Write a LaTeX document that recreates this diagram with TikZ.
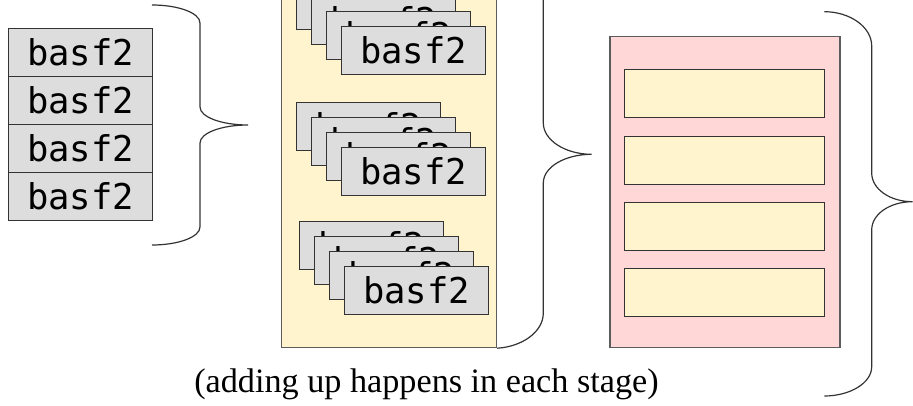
\documentclass[tikz,border=0pt]{standalone}
\usepackage{fontspec}
\setmainfont{Liberation Serif}
\newfontfamily\codefont{DejaVu Sans Mono}
\definecolor{jobgrey}{HTML}{DDDDDD}
\definecolor{stageyellow}{HTML}{FFF4CE}
\definecolor{poolpink}{HTML}{FFD7D7}
\definecolor{edgegrey}{HTML}{333333}
\begin{document}
\begin{tikzpicture}[x=1pt,y=-1pt,
  binbox/.style={draw=edgegrey,fill=jobgrey,line width=1pt,
    minimum width=144pt,minimum height=48pt,inner sep=0pt,anchor=north west,
    font=\codefont\fontsize{35.5}{40}\selectfont},
  panel/.style={draw=edgegrey!80,line width=1.2pt,inner sep=0pt,anchor=north west},
  slot/.style={draw=edgegrey,fill=stageyellow,line width=1pt,
    minimum width=200pt,minimum height=48pt,inner sep=0pt,anchor=north west},
  bracepath/.style={draw=edgegrey,line width=1.2pt}]
\useasboundingbox (0,0) rectangle (913,406);
\clip (0,0) rectangle (913,406);

% single process: four jobs one after another
\foreach \i/\y in {1/28,2/76,3/124,4/172}
  \node[binbox] (seq\i) at (8,\y) {basf2};

% stage panel with three groups of parallel jobs
\node[panel,fill=stageyellow,minimum width=215pt,minimum height=352pt] (stage) at (281,-5) {};
\foreach \i/\x/\y in {1/296/-19,2/311/-4,3/326/11,4/341/26}
  \node[binbox] (ga\i) at (\x,\y) {basf2};
\foreach \i/\x/\y in {1/296/101.7,2/311/116.7,3/326/131.7,4/341/146.7}
  \node[binbox] (gb\i) at (\x,\y) {basf2};
\foreach \i/\x/\y in {1/299/221,2/314/236,3/329/251,4/344/266}
  \node[binbox] (gc\i) at (\x,\y) {basf2};

% pool of stages
\node[panel,fill=poolpink,minimum width=230pt,minimum height=310.7pt] (pool) at (609.3,36) {};
\foreach \i/\y in {1/69,2/136,3/202.3,4/268.3}
  \node[slot] (slot\i) at (624.3,\y) {};

% curly braces
\path[bracepath] (152,5) .. controls (178.5,5) and (200,13) .. (200,23)
  -- (200,107) .. controls (200,117) and (221.5,125) .. (248,125)
  .. controls (221.5,125) and (200,133) .. (200,143)
  -- (200,227) .. controls (200,237) and (178.5,245) .. (152,245);

\path[bracepath] (496,-38) .. controls (522,-38) and (543.3,-23) .. (543.3,-4)
  -- (543.3,123) .. controls (543.3,140) and (565,154.3) .. (591.7,154.3)
  .. controls (565,154.3) and (543.3,167) .. (543.3,183)
  -- (543.3,313) .. controls (543.3,332) and (522,346.7) .. (stage.south east);

\path[bracepath] (824.3,11.7) .. controls (850,11.7) and (871.7,27) .. (871.7,46)
  -- (871.7,173) .. controls (871.7,189) and (890,201.7) .. (912.5,201.7)
  .. controls (890,201.7) and (871.7,214) .. (871.7,230)
  -- (871.7,366.7) .. controls (871.7,383) and (850,396) .. (824.3,396);

\node[anchor=base,font=\fontsize{34.2}{40}\selectfont,inner sep=0pt] (note) at (426.5,392)
  {(adding up happens in each stage)};
\end{tikzpicture}
\end{document}
